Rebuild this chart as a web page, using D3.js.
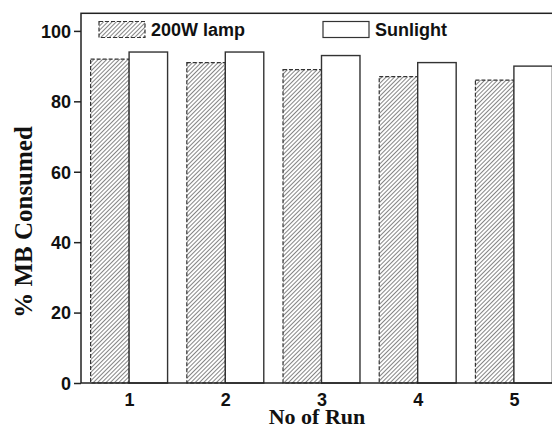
<!DOCTYPE html>
<html>
<head>
<meta charset="utf-8">
<script src="https://cdn.jsdelivr.net/npm/d3@7.9.0/dist/d3.min.js"></script>
<style>
  html, body { margin: 0; padding: 0; background: #fff; }
  svg { display: block; }
  .tick text { font-family: "Liberation Sans", Arial, sans-serif; font-weight: bold; font-size: 18px; fill: #111; }
</style>
</head>
<body>
<svg id="chart" width="552" height="428"></svg>
<script>
// data
const runs = [1, 2, 3, 4, 5];
const lampValues = [92, 91, 89, 87, 86];
const sunValues = [94, 94, 93, 91, 90];
const yTicks = [0, 20, 40, 60, 80, 100];
const seriesNames = ['200W lamp', 'Sunlight'];

const svg = d3.select('#chart');
const plotLeft = 81, plotTop = 13.3, plotBottom = 383;

// the right part of the frame falls outside the picture
const x = d3.scaleLinear().domain([0.5, 5.5]).range([plotLeft, plotLeft + 5 * 96.2]);
const y = d3.scaleLinear().domain([0, 105]).range([plotBottom, plotTop]);
const barW = x(1.4) - x(1);

// hatch for lamp bars
const defs = svg.append('defs');
defs.append('pattern')
    .attr('id', 'hatch')
    .attr('patternUnits', 'userSpaceOnUse')
    .attr('width', 3)
    .attr('height', 3)
    .attr('patternTransform', 'rotate(45)')
    .append('line')
    .attr('x1', 0.5).attr('y1', 0)
    .attr('x2', 0.5).attr('y2', 3)
    .attr('stroke', '#777')
    .attr('stroke-width', 0.9);

// lamp bars (dashed outline)
svg.append('g').selectAll('rect')
    .data(runs)
    .join('rect')
    .attr('x', (d) => x(d) - barW)
    .attr('y', (d, i) => y(lampValues[i]))
    .attr('width', barW)
    .attr('height', (d, i) => plotBottom - y(lampValues[i]))
    .attr('fill', 'url(#hatch)')
    .attr('stroke', '#333')
    .attr('stroke-width', 1.2)
    .attr('stroke-dasharray', '4,2');

// sunlight bars
svg.append('g').selectAll('rect')
    .data(runs)
    .join('rect')
    .attr('x', (d) => x(d))
    .attr('y', (d, i) => y(sunValues[i]))
    .attr('width', barW)
    .attr('height', (d, i) => plotBottom - y(sunValues[i]))
    .attr('fill', '#fff')
    .attr('stroke', '#333')
    .attr('stroke-width', 1.4);

// frame
svg.append('rect')
    .attr('x', plotLeft).attr('y', plotTop)
    .attr('width', x(5.5) - plotLeft).attr('height', plotBottom - plotTop)
    .attr('fill', 'none')
    .attr('stroke', '#222')
    .attr('stroke-width', 1.5);

// axes
const yAxis = svg.append('g')
    .attr('transform', `translate(${plotLeft},0)`)
    .call(d3.axisLeft(y).tickValues(yTicks).tickSize(7).tickPadding(3).tickFormat(d3.format('d')));
yAxis.select('.domain').remove();
yAxis.selectAll('.tick line').attr('stroke', '#222').attr('stroke-width', 1.5);
yAxis.selectAll('.tick text').attr('dy', '0.35em');

const xAxis = svg.append('g')
    .attr('transform', `translate(0,${plotBottom})`)
    .call(d3.axisBottom(x).tickValues(runs).tickSize(0).tickPadding(10).tickFormat(d3.format('d')));
xAxis.select('.domain').remove();

// axis titles
svg.append('text')
    .attr('transform', 'translate(32,222) rotate(-90)')
    .attr('text-anchor', 'middle')
    .style('font-family', '"Liberation Serif", "Times New Roman", serif')
    .style('font-weight', 'bold')
    .style('font-size', '25px')
    .attr('fill', '#111')
    .text('% MB Consumed');

svg.append('text')
    .attr('x', 317)
    .attr('y', 423.5)
    .attr('text-anchor', 'middle')
    .style('font-family', '"Liberation Serif", "Times New Roman", serif')
    .style('font-weight', 'bold')
    .style('font-size', '22px')
    .attr('fill', '#111')
    .text('No of Run');

// legend
const legendItems = [
    { name: seriesNames[0], x: 99, fill: 'url(#hatch)', dash: '4,2' },
    { name: seriesNames[1], x: 323, fill: '#fff', dash: null }
];
const legend = svg.append('g').selectAll('g')
    .data(legendItems)
    .join('g')
    .attr('transform', (d) => `translate(${d.x},21.5)`);
legend.append('rect')
    .attr('width', 46).attr('height', 16)
    .attr('fill', (d) => d.fill)
    .attr('stroke', '#333')
    .attr('stroke-width', 1.2)
    .attr('stroke-dasharray', (d) => d.dash);
legend.append('text')
    .attr('x', 52)
    .attr('y', 14.5)
    .style('font-family', '"Liberation Sans", Arial, sans-serif')
    .style('font-weight', 'bold')
    .style('font-size', '18px')
    .attr('fill', '#111')
    .text((d) => d.name);
</script>
</body>
</html>
